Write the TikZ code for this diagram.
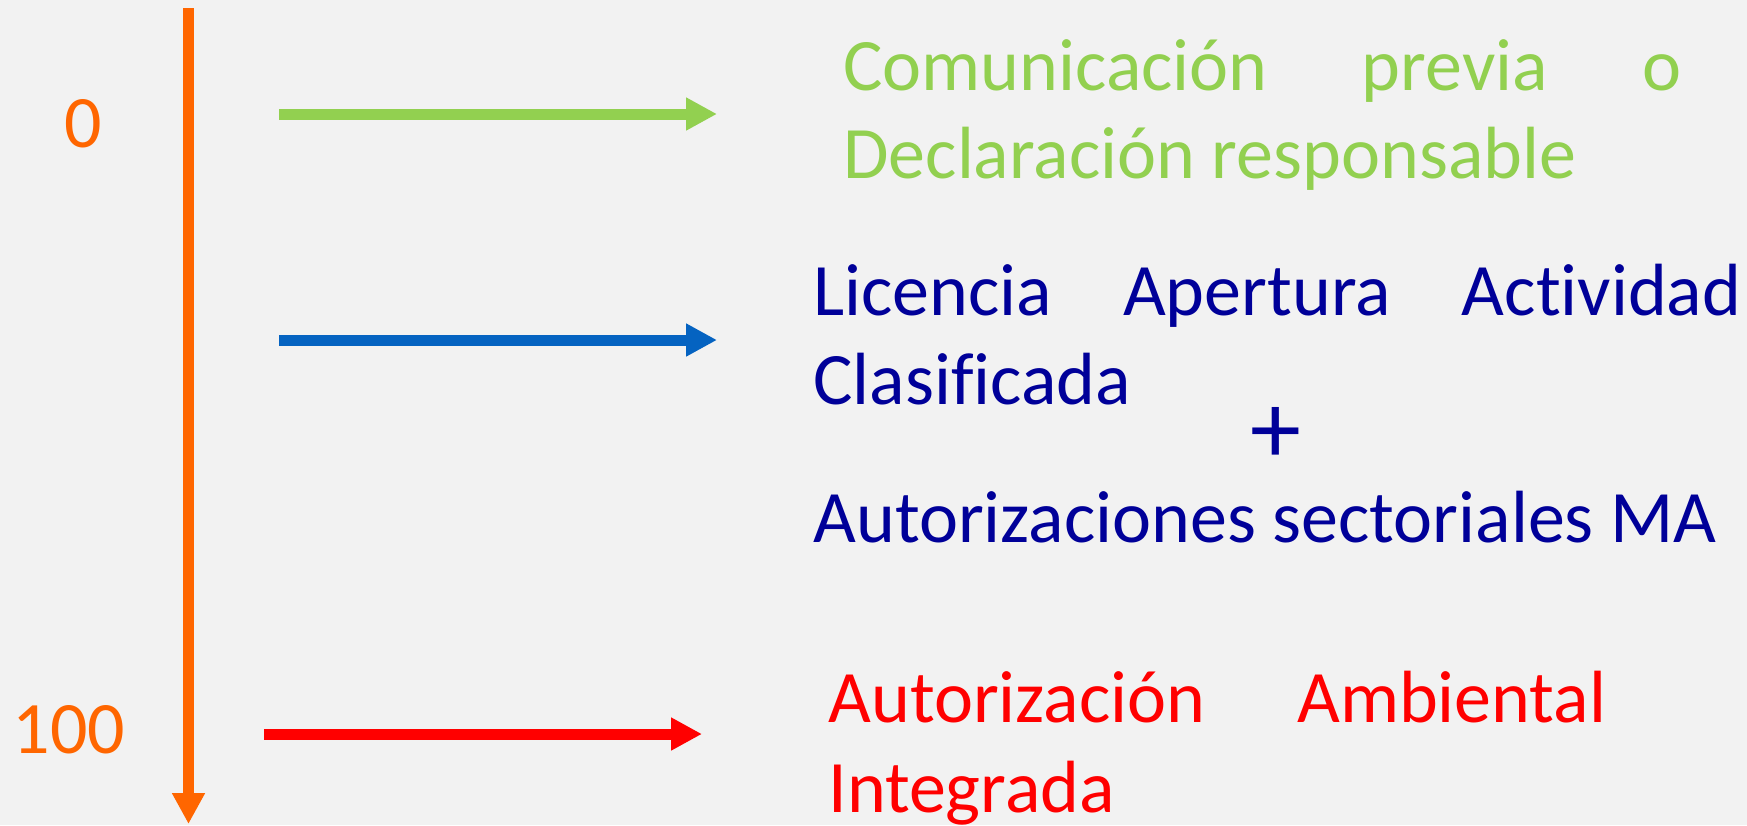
\documentclass[tikz,border=0pt]{standalone}
\usepackage{fontspec}
\setmainfont[RawFeature={-liga;-clig;-dlig;-calt;-rlig}]{Carlito}
\usetikzlibrary{arrows.meta}
\definecolor{bgcol}{HTML}{F2F2F2}
\definecolor{scaleorange}{HTML}{FF6600}
\definecolor{comgreen}{HTML}{92D050}
\definecolor{licblue}{HTML}{0563C1}
\definecolor{licnavy}{HTML}{000099}
\definecolor{aaired}{HTML}{FF0000}
\tikzset{
  level/.style={line width=0.22cm,-{Triangle[length=0.62cm,width=0.62cm]}},
  txt/.style={anchor=base west,inner sep=0pt,font=\fontsize{42.1pt}{51.2pt}\selectfont},
}
\begin{document}
\begin{tikzpicture}
    \fill[bgcol] (0,0) rectangle (34.94,-16.5);
    \useasboundingbox (0,0) rectangle (34.94,-16.5);
    % scale of environmental control
    \coordinate (top) at (3.77,-0.16);
    \coordinate (bottom) at (3.77,-16.48);
    \draw[level,scaleorange] (top) -- (bottom);
    \begin{scope}[every node/.style={inner sep=0pt,text=scaleorange,font=\fontsize{42.1pt}{51.2pt}\selectfont}]
        \node (zero) at (1.66,-2.48) {0};
        \node (hundred) at (1.38,-14.6) {100};
    \end{scope}
    % arrows
    \coordinate (g1) at (5.58,-2.28);
    \coordinate (g2) at (14.34,-2.28);
    \coordinate (b1) at (5.58,-6.8);
    \coordinate (b2) at (14.34,-6.8);
    \coordinate (r1) at (5.28,-14.68);
    \coordinate (r2) at (14.04,-14.68);
    \draw[level,comgreen] (g1) -- (g2);
    \draw[level,licblue] (b1) -- (b2);
    \draw[level,aaired] (r1) -- (r2);
    % texts
    \begin{scope}[every node/.style={txt}]
        \node[text=comgreen] (com1) at (16.86,-1.80) {\makebox[16.76cm][s]{Comunicación previa o}};
        \node[text=comgreen] (com2) at (16.86,-3.56) {Declaración responsable};
        \node[text=licnavy] (lic1) at (16.26,-6.30) {\makebox[18.56cm][s]{Licencia Apertura Actividad}};
        \node[text=licnavy] (lic2) at (16.26,-8.08) {Clasificada};
        \node[text=licnavy] (aut) at (16.26,-10.84) {Autorizaciones sectoriales MA};
        \node[text=aaired] (aai1) at (16.56,-14.44) {\makebox[15.56cm][s]{Autorización Ambiental}};
        \node[text=aaired] (aai2) at (16.56,-16.24) {Integrada};
    \end{scope}
    \node[inner sep=0pt,text=licnavy,font=\fontsize{58pt}{60pt}\selectfont] (plus) at (25.52,-8.70) {+};
\end{tikzpicture}
\end{document}
